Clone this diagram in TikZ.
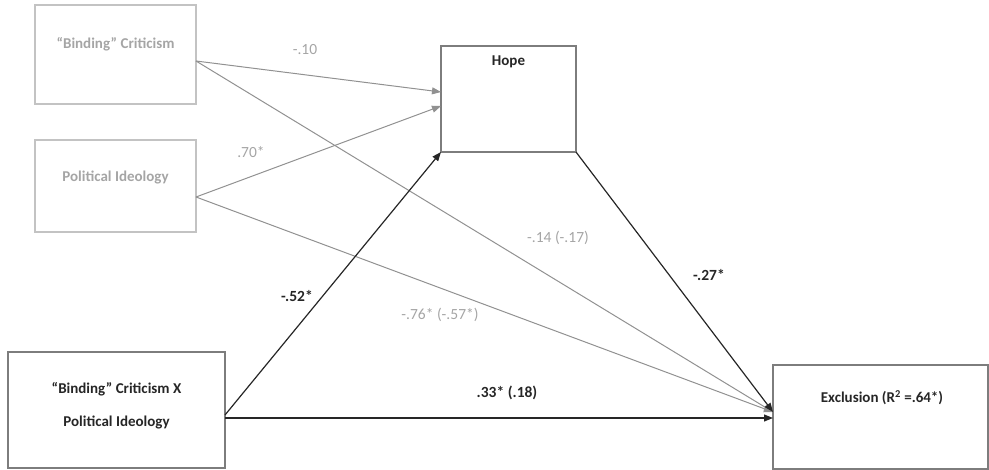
\documentclass[tikz,border=0pt]{standalone}
\usepackage{fontspec}
\setmainfont{Carlito}
\usetikzlibrary{arrows.meta}
\definecolor{lgray}{RGB}{165,165,165}
\definecolor{boxgray}{RGB}{195,195,195}
\definecolor{mgray}{RGB}{145,145,145}
\definecolor{bgray}{RGB}{125,125,125}
\begin{document}
\begin{tikzpicture}[x=1pt,y=-1pt,
  graybox/.style={draw=boxgray,line width=1.5pt,inner sep=0pt},
  darkbox/.style={draw=bgray,line width=1.6pt,inner sep=0pt},
  graytxt/.style={text=lgray,font=\fontsize{15}{18}\selectfont\bfseries},
  blacktxt/.style={text=black!85,font=\fontsize{15}{18}\selectfont\bfseries},
  grayarr/.style={draw=mgray,line width=1pt,-{Triangle[length=9pt,width=7pt]}},
  blackarr/.style={draw=black!85,line width=1.2pt,-{Triangle[length=9pt,width=7pt]}},
  graylab/.style={text=lgray,font=\fontsize{15.5}{18}\selectfont},
  blacklab/.style={text=black!85,font=\fontsize{15.5}{18}\selectfont\bfseries}]
\useasboundingbox (0,0) rectangle (989,470);
% boxes
\draw[graybox] (35,5) rectangle (196,104);
\node[graytxt] (bctxt) at (115.5,44) {“Binding” Criticism};
\draw[graybox] (35,140) rectangle (196,232);
\node[graytxt] (pitxt) at (115.5,177) {Political Ideology};
\draw[darkbox] (441,46) rectangle (576,152);
\node[blacktxt] (hopetxt) at (508.5,62) {Hope};
\draw[darkbox] (8,352) rectangle (225,468);
\node[blacktxt] (i1) at (116.5,389) {“Binding” Criticism X};
\node[blacktxt] (i2) at (116.5,422) {Political Ideology};
\draw[darkbox] (773,365) rectangle (988,469);
\node[blacktxt] (extxt) at (882,398) {Exclusion (R\textsuperscript{2} =.64*)};
% connection points
\coordinate (bcR) at (196,61);
\coordinate (piR) at (196,197);
\coordinate (hopeA) at (441,92);
\coordinate (hopeB) at (441,106);
\coordinate (hopeBL) at (441,152);
\coordinate (hopeBR) at (576,152);
\coordinate (intR1) at (225,415);
\coordinate (intR2) at (225,418);
\coordinate (exL) at (773,412);
\coordinate (exL2) at (773,418);
% arrows
\draw[grayarr] (bcR) -- (hopeA);
\draw[grayarr] (piR) -- (hopeB);
\draw[grayarr] (bcR) -- (exL);
\draw[grayarr] (piR) -- (exL);
\draw[blackarr] (intR1) -- (hopeBL);
\draw[blackarr] (hopeBR) -- (exL);
\draw[blackarr] (intR2) -- (exL2);
% labels
\node[graylab] (l1) at (305,50) {-.10};
\node[graylab] (l2) at (251,152) {.70*};
\node[graylab] (l3) at (558,238) {-.14 (-.17)};
\node[graylab] (l4) at (440,315) {-.76* (-.57*)};
\node[blacklab] (l5) at (297,296) {-.52*};
\node[blacklab] (l6) at (709,275) {-.27*};
\node[blacklab] (l7) at (507,393) {.33* (.18)};
\end{tikzpicture}
\end{document}
